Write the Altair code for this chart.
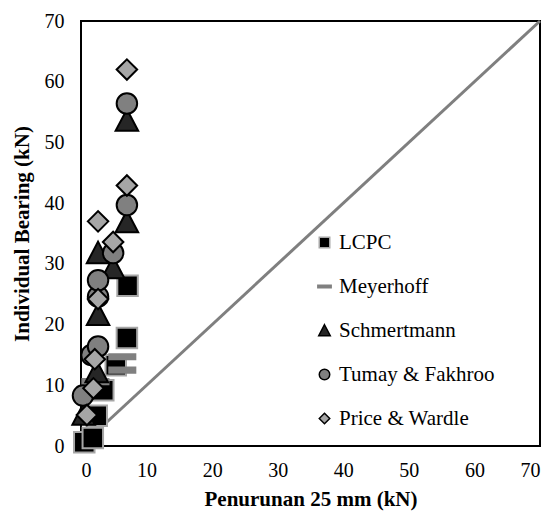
import altair as alt
import pandas as pd

series = ["LCPC", "Meyerhoff", "Schmertmann", "Tumay & Fakhroo", "Price & Wardle"]

lcpc_x = [0.5, 1.8, 2.4, 3.4, 5.3, 7.0, 7.1]
lcpc_y = [0.6, 1.3, 5.0, 9.2, 13.3, 17.8, 26.4]
mey_x = [2.2, 6.3, 6.3]
mey_y = [10.6, 12.5, 14.7]
sch_x = [0.4, 2.4, 2.6, 2.6, 4.9, 7.0, 7.0]
sch_y = [5.2, 12.2, 21.6, 31.8, 29.3, 36.9, 53.6]
tum_x = [0.3, 1.6, 2.6, 2.6, 2.6, 4.9, 7.0, 7.0]
tum_y = [8.3, 15.0, 16.4, 24.6, 27.3, 31.8, 39.7, 56.4]
pw_x = [0.9, 1.9, 2.1, 2.6, 2.6, 4.9, 7.0, 7.0]
pw_y = [5.1, 9.5, 14.3, 24.2, 37.0, 33.6, 42.9, 62.0]

line_x = [0, 70]
line_y = [0, 70]

rows = []
for name, xs, ys in zip(series, [lcpc_x, mey_x, sch_x, tum_x, pw_x],
                        [lcpc_y, mey_y, sch_y, tum_y, pw_y]):
    for a, b in zip(xs, ys):
        rows.append({"series": name, "x": a, "y": b})
df = pd.DataFrame(rows)
df_line = pd.DataFrame({"x": line_x, "y": line_y})

FONT = "'Liberation Serif', 'Times New Roman', Times, serif"
xscale = alt.Scale(domain=[0, 70], nice=False, zero=True)
yscale = alt.Scale(domain=[0, 70], nice=False, zero=True)

fills = ["#000000", "#808080", "#262626", "#808080", "#a6a6a6"]
strokes = ["#a6a6a6", "#808080", "#000000", "#000000", "#000000"]
dash = "M-1.27,-0.25H1.27V0.25H-1.27Z"
tri = "M0,-1.1L1.1,1L-1.1,1Z"
shapes = ["square", dash, tri, "circle", "diamond"]

leg = alt.Legend(title=None, orient="none", legendX=233, legendY=211,
                 padding=0, rowPadding=22, labelFont=FONT,
                 labelFontSize=21, labelColor="#000",
                 symbolSize=110, symbolStrokeWidth=1.5, labelOffset=4)

line = alt.Chart(df_line).mark_line(color="#7f7f7f", strokeWidth=3).encode(
    x=alt.X("x:Q", scale=xscale,
            axis=alt.Axis(title="Penurunan 25 mm (kN)", values=list(range(0, 71, 10)))),
    y=alt.Y("y:Q", scale=yscale,
            axis=alt.Axis(title="Individual Bearing (kN)", values=list(range(0, 71, 10)))),
)

pts = alt.Chart(df).mark_point(filled=True, size=420, opacity=1, strokeWidth=2).encode(
    x=alt.X("x:Q", scale=xscale),
    y=alt.Y("y:Q", scale=yscale),
    fill=alt.Fill("series:N", scale=alt.Scale(domain=series, range=fills), legend=leg),
    stroke=alt.Stroke("series:N", scale=alt.Scale(domain=series, range=strokes), legend=leg),
    shape=alt.Shape("series:N", scale=alt.Scale(domain=series, range=shapes), legend=leg),
)

chart = alt.layer(line, pts).properties(
    width=459, height=425,
    autosize=alt.AutoSizeParams(type="none"),
    padding={"left": 81, "top": 21, "right": 16, "bottom": 66},
).configure_view(stroke="#000000", strokeWidth=2).configure_axis(
    grid=False, ticks=False, domain=False, labelFont=FONT, labelFontSize=20,
    labelColor="#000", titleFont=FONT, titleFontSize=21, titleFontWeight="bold",
    titleColor="#000",
).configure_axisX(labelPadding=14, titlePadding=8).configure_axisY(
    labelPadding=17, titlePadding=12
)

chart.save("out.html", embed_options={"renderer": "svg", "actions": False})
